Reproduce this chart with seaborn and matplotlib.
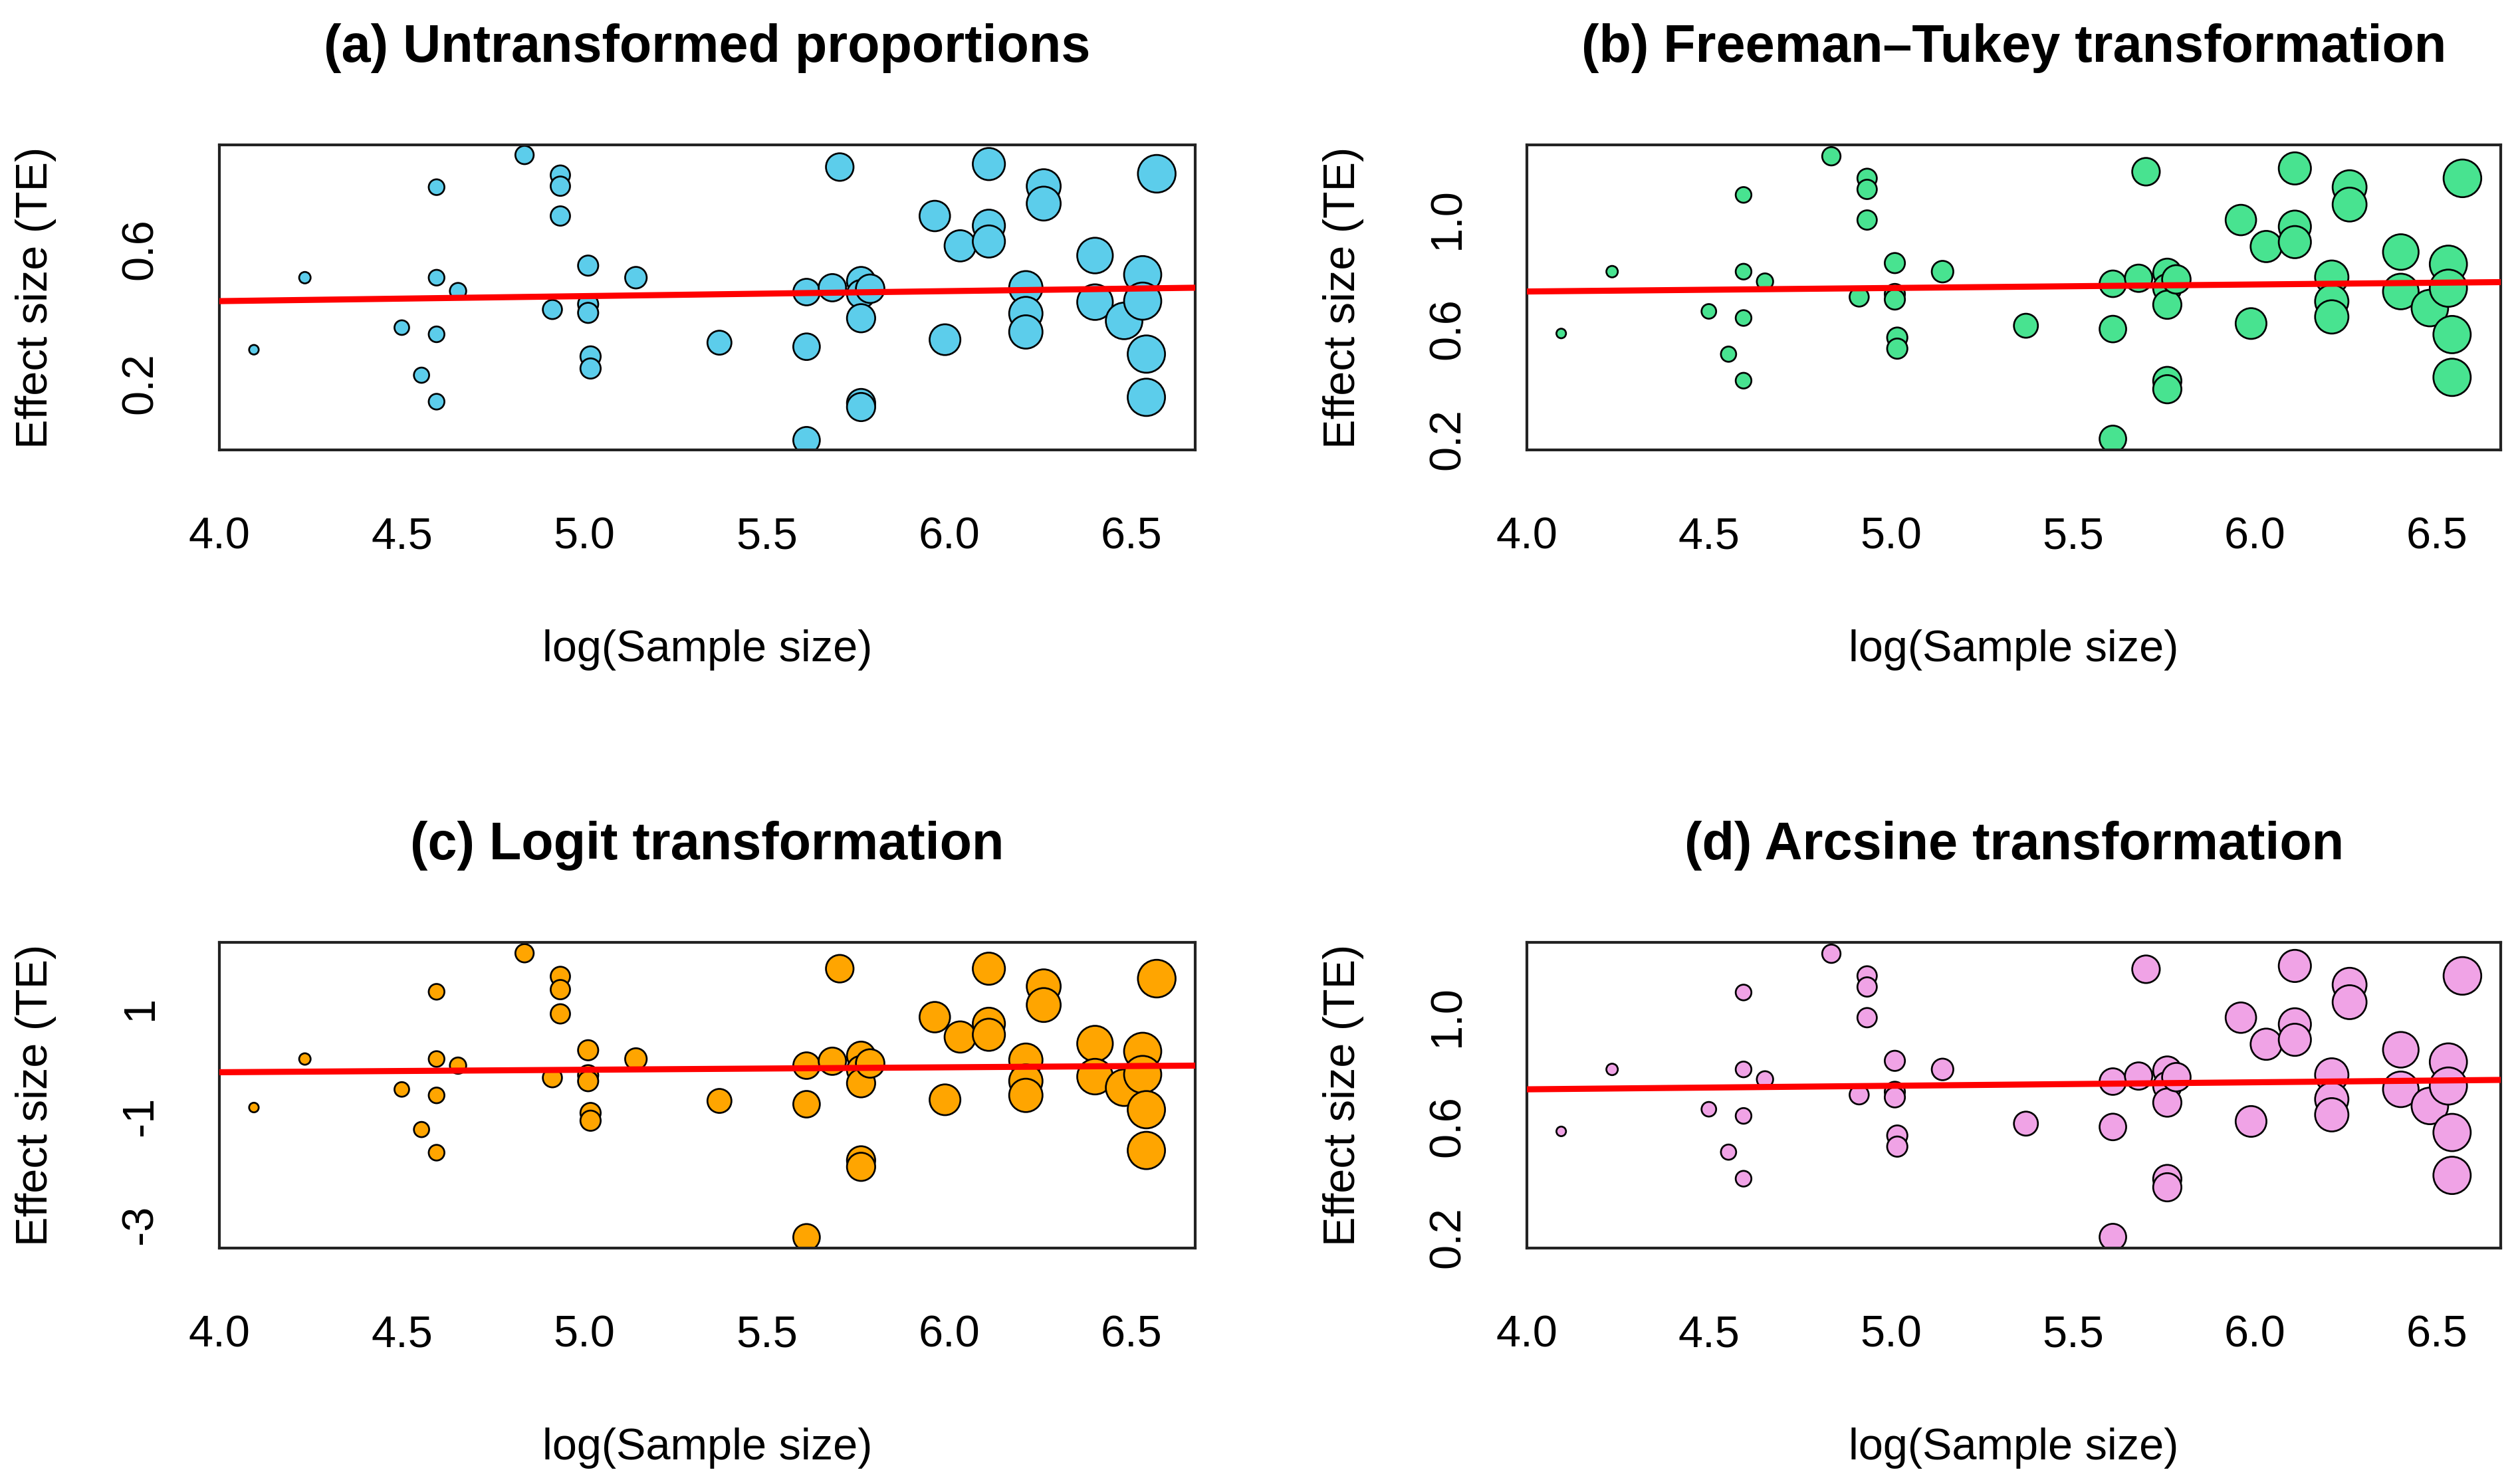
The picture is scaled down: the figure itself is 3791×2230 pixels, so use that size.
import numpy as np
import pandas as pd
import matplotlib
matplotlib.use("Agg")
import matplotlib.pyplot as plt
import seaborn as sns

# one entry per study
sample_size = [60, 69, 90, 95, 99, 99, 99, 99, 105, 126, 136, 139, 139, 139,
               150, 150, 150, 151, 151, 171, 215, 273, 273, 273, 293, 299,
               317, 317, 317, 317, 317, 325, 388, 399, 416, 450, 450, 450,
               498, 498, 498, 523, 523, 602, 602, 652, 686, 686, 693, 693, 713]

te_untransformed = [0.299, 0.514, 0.365, 0.223, 0.784, 0.514, 0.345, 0.144,
                    0.474, 0.880, 0.419, 0.820, 0.787, 0.698, 0.550, 0.435,
                    0.409, 0.279, 0.243, 0.514, 0.320, 0.471, 0.308, 0.029,
                    0.484, 0.844, 0.504, 0.465, 0.393, 0.140, 0.128, 0.481,
                    0.698, 0.329, 0.609, 0.853, 0.669, 0.622, 0.484, 0.407,
                    0.352, 0.787, 0.735, 0.580, 0.441, 0.385, 0.523, 0.444,
                    0.286, 0.157, 0.824]

te_freeman_tukey = [0.582, 0.806, 0.662, 0.507, 1.084, 0.806, 0.638, 0.411,
                    0.770, 1.224, 0.714, 1.144, 1.104, 0.993, 0.837, 0.725,
                    0.705, 0.567, 0.527, 0.806, 0.610, 0.762, 0.598, 0.200,
                    0.782, 1.168, 0.802, 0.746, 0.686, 0.410, 0.380, 0.778,
                    0.993, 0.618, 0.897, 1.180, 0.969, 0.913, 0.786, 0.698,
                    0.642, 1.112, 1.049, 0.877, 0.734, 0.674, 0.833, 0.746,
                    0.578, 0.423, 1.144]

te_logit = [-0.846, 0.049, -0.512, -1.252, 1.289, 0.049, -0.622, -1.679,
            -0.073, 2.000, -0.297, 1.573, 1.329, 0.882, 0.211, -0.250,
            -0.360, -0.947, -1.089, 0.049, -0.724, -0.073, -0.785, -3.240,
            0.008, 1.715, 0.110, -0.154, -0.398, -1.820, -1.940, -0.033,
            0.821, -0.703, 0.455, 1.715, 0.699, 0.496, 0.028, -0.358,
            -0.622, 1.390, 1.045, 0.333, -0.276, -0.480, 0.191, -0.236,
            -0.886, -1.638, 1.532]

te_arcsine = [0.582, 0.806, 0.662, 0.507, 1.084, 0.806, 0.638, 0.411,
              0.770, 1.224, 0.714, 1.144, 1.104, 0.993, 0.837, 0.725,
              0.705, 0.567, 0.527, 0.806, 0.610, 0.762, 0.598, 0.200,
              0.782, 1.168, 0.802, 0.746, 0.686, 0.410, 0.380, 0.778,
              0.993, 0.618, 0.897, 1.180, 0.969, 0.913, 0.786, 0.698,
              0.642, 1.112, 1.049, 0.877, 0.734, 0.674, 0.833, 0.746,
              0.578, 0.423, 1.144]

titles = ["(a) Untransformed proportions", "(b) Freeman\u2013Tukey transformation",
          "(c) Logit transformation", "(d) Arcsine transformation"]
fill_colors = ["#5CCDEB", "#48E390", "#FFA500", "#F0A3E6"]

# meta-regression lines (intercept at log n = 0, slope)
reg_intercept = [0.3842, 0.6832, -0.3774, 0.6832]
reg_slope = [0.01495, 0.01271, 0.0456, 0.01271]

y_ticks = [[0.2, 0.4, 0.6, 0.8],
           [0.2, 0.4, 0.6, 0.8, 1.0, 1.2],
           [-3, -2, -1, 0, 1, 2],
           [0.2, 0.4, 0.6, 0.8, 1.0, 1.2]]
y_ticklabels = [["0.2", "", "0.6", ""],
                ["0.2", "", "0.6", "", "1.0", ""],
                ["-3", "", "-1", "", "1", ""],
                ["0.2", "", "0.6", "", "1.0", ""]]
y_limits = [(0.0, 0.91), (0.16, 1.265), (-3.44, 2.2), (0.16, 1.265)]
x_ticks = [4.0, 4.5, 5.0, 5.5, 6.0, 6.5]

sns.set_style("white")
plt.rcParams['font.family'] = ['Liberation Sans', 'DejaVu Sans']
plt.rcParams['text.color'] = 'black'
plt.rcParams['axes.labelcolor'] = 'black'
plt.rcParams['xtick.color'] = 'black'
plt.rcParams['ytick.color'] = 'black'

df = pd.DataFrame({
    'log_n': np.log(sample_size),
    'precision': np.sqrt(sample_size),
    'a': te_untransformed,
    'b': te_freeman_tukey,
    'c': te_logit,
    'd': te_arcsine,
})

fig = plt.figure(figsize=(3791 / 300, 2230 / 300), dpi=300)
boxes = [[0.0871, 0.6964, 0.3872, 0.2058],
         [0.6059, 0.6964, 0.3865, 0.2058],
         [0.0871, 0.1578, 0.3872, 0.2063],
         [0.6059, 0.1578, 0.3865, 0.2063]]

for i, col in enumerate(['a', 'b', 'c', 'd']):
    ax = fig.add_axes(boxes[i])
    sns.scatterplot(data=df, x='log_n', y=col, size='precision',
                    sizes=(12, 185), color=fill_colors[i], edgecolor='black',
                    linewidth=0.65, legend=False, ax=ax, zorder=2)
    ax.axline((0, reg_intercept[i]), slope=reg_slope[i], color='#FF0000',
              lw=2.2, zorder=3)

    ax.set_xlim(4.0, 6.675)
    ax.set_ylim(*y_limits[i])
    ax.set_xticks(x_ticks)
    ax.set_xticklabels([f"{v:.1f}" for v in x_ticks], fontsize=16)
    ax.set_yticks(y_ticks[i])
    ax.set_yticklabels(y_ticklabels[i], fontsize=16, rotation=90, va='center')
    ax.tick_params(axis='both', direction='out', length=10, width=0.9,
                   color='#222222', labelcolor='black')
    ax.tick_params(axis='x', pad=14)
    ax.tick_params(axis='y', pad=11)
    for sp in ax.spines.values():
        sp.set_visible(True)
        sp.set_color('#222222')
        sp.set_linewidth(1.0)

    ax.set_xlabel('log(Sample size)', fontsize=16, labelpad=26, color='black')
    ax.set_ylabel('Effect size (TE)', fontsize=16, labelpad=23, color='black')
    ax.set_title(titles[i], fontsize=19, fontweight='bold', pad=30,
                 color='black')

fig.savefig('out.png', dpi=300, facecolor='white')
